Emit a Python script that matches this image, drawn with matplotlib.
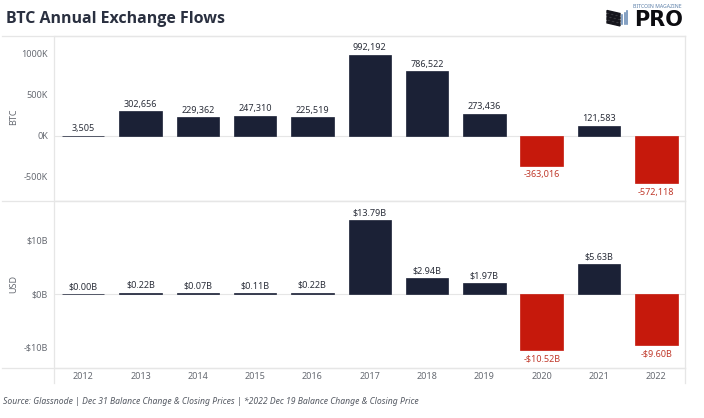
import matplotlib
matplotlib.use('Agg')
import matplotlib.pyplot as plt
from matplotlib.lines import Line2D
from matplotlib.patches import Polygon

plt.rcParams['font.family'] = ['Noto Sans', 'DejaVu Sans']

years = [2012, 2013, 2014, 2015, 2016, 2017, 2018, 2019, 2020, 2021, 2022]
btc_flows = [3505, 302656, 229362, 247310, 225519, 992192, 786522, 273436, -363016, 121583, -572118]
usd_flows = [0.00, 0.22, 0.07, 0.11, 0.22, 13.79, 2.94, 1.97, -10.52, 5.63, -9.60]
btc_ticks = [-500000, 0, 500000, 1000000]
btc_tick_labels = ['-500K', '0K', '500K', '1000K']
usd_ticks = [-10, 0, 10]
usd_tick_labels = ['-$10B', '$0B', '$10B']

W, H = 704, 418
NAVY = '#1b2136'
RED = '#c6190c'
RED_TEXT = '#c0392b'
GRID = '#e6e6e6'
GREY = '#666a72'
FS = 6.5


def px_axes(fig, left, top, right, bottom):
    # axes placed with pixel coordinates measured from the top left
    return fig.add_axes([left / W, 1 - bottom / H, (right - left) / W, (bottom - top) / H])


def draw_panel(ax, values, labels, ylim, ticks, tick_labels, ylabel, label_y):
    colors = [NAVY if v >= 0 else RED for v in values]
    ax.axhline(0, color=GRID, lw=0.8, zorder=1)
    # thin edge keeps the near-zero bars visible
    ax.bar(range(len(values)), values, width=0.74, color=colors, edgecolor=colors, linewidth=0.5, zorder=2)
    ax.set_xlim(-0.5, 10.5)
    ax.set_ylim(*ylim)
    ax.set_yticks(ticks)
    ax.set_yticklabels(tick_labels, fontsize=FS, color=GREY)
    ax.tick_params(axis='both', length=0, pad=4.5)
    ax.set_ylabel(ylabel, fontsize=FS, color=GREY)
    ax.yaxis.set_label_coords(-0.058, label_y)
    for spine in ax.spines.values():
        spine.set_color(GRID)
        spine.set_linewidth(0.9)
    ax.spines['left'].set_visible(False)
    ax.spines['right'].set_visible(False)
    for i, (v, lab) in enumerate(zip(values, labels)):
        if v >= 0:
            ax.annotate(lab, (i, v), xytext=(0, 1.9), textcoords='offset points',
                        ha='center', va='bottom', fontsize=FS, color='#2b2f3a')
        else:
            ax.annotate(lab, (i, v), xytext=(0, -3.4), textcoords='offset points',
                        ha='center', va='top', fontsize=FS, color=RED_TEXT)


fig = plt.figure(figsize=(W / 100, H / 100), dpi=100, facecolor='white')

ax_btc = px_axes(fig, 54.5, 36, 685, 201.5)
ax_usd = px_axes(fig, 54.5, 201.5, 685, 367.5)

draw_panel(ax_btc, btc_flows, [f'{v:,}' for v in btc_flows], (-799000, 1219000),
           btc_ticks, btc_tick_labels, 'BTC', 0.51)
draw_panel(ax_usd, usd_flows, [f'-${-v:.2f}B' if v < 0 else f'${v:.2f}B' for v in usd_flows],
           (-13.85, 17.3), usd_ticks, usd_tick_labels, 'USD', 0.503)

ax_btc.set_xticks([])
ax_usd.set_xticks(range(len(years)))
ax_usd.set_xticklabels(years, fontsize=FS, color=GREY)
ax_usd.tick_params(axis='x', pad=3)

# frame lines that run past the axes, as in the dashboard layout
for x in (54.5, 685):
    fig.add_artist(Line2D([x / W, x / W], [1 - 36 / H, 1 - 383 / H], color=GRID, lw=0.9))
for y in (36, 201.5, 367.5):
    fig.add_artist(Line2D([2 / W, 685 / W], [1 - y / H, 1 - y / H], color=GRID, lw=0.9))

fig.text(6 / W, 1 - 19 / H, 'BTC Annual Exchange Flows', fontsize=11.5, fontweight='bold',
         color='#2a3040', ha='left', va='center', family=['Open Sans', 'DejaVu Sans'])
fig.text(3 / W, 1 - 401 / H,
         'Source: Glassnode | Dec 31 Balance Change & Closing Prices | *2022 Dec 19 Balance Change & Closing Price',
         fontsize=6.2, style='italic', color='#555a63', ha='left', va='center')

# logo
fig.text(683 / W, 1 - 26 / H, 'PRO', fontsize=15, fontweight='bold', color='#0c0c10',
         ha='right', va='baseline', family=['DejaVu Sans'])
fig.text(682 / W, 1 - 7 / H, 'BITCOIN MAGAZINE', fontsize=3.7, fontweight='bold', color='#5b7fa8',
         ha='right', va='center')
for i in range(4):
    y0 = 10.5 + i * 3.4
    fig.add_artist(Polygon([[607 / W, 1 - y0 / H], [620 / W, 1 - (y0 + 3) / H],
                            [620 / W, 1 - (y0 + 5.2) / H], [607 / W, 1 - (y0 + 2.2) / H]],
                           closed=True, color='#15151c', transform=fig.transFigure))
for x, top in zip((622, 624.5, 627), (15, 13, 11)):
    fig.add_artist(Line2D([x / W, x / W], [1 - top / H, 1 - 24 / H], color='#6d8fb8', lw=1.2))

fig.savefig('out.png', dpi=100)
